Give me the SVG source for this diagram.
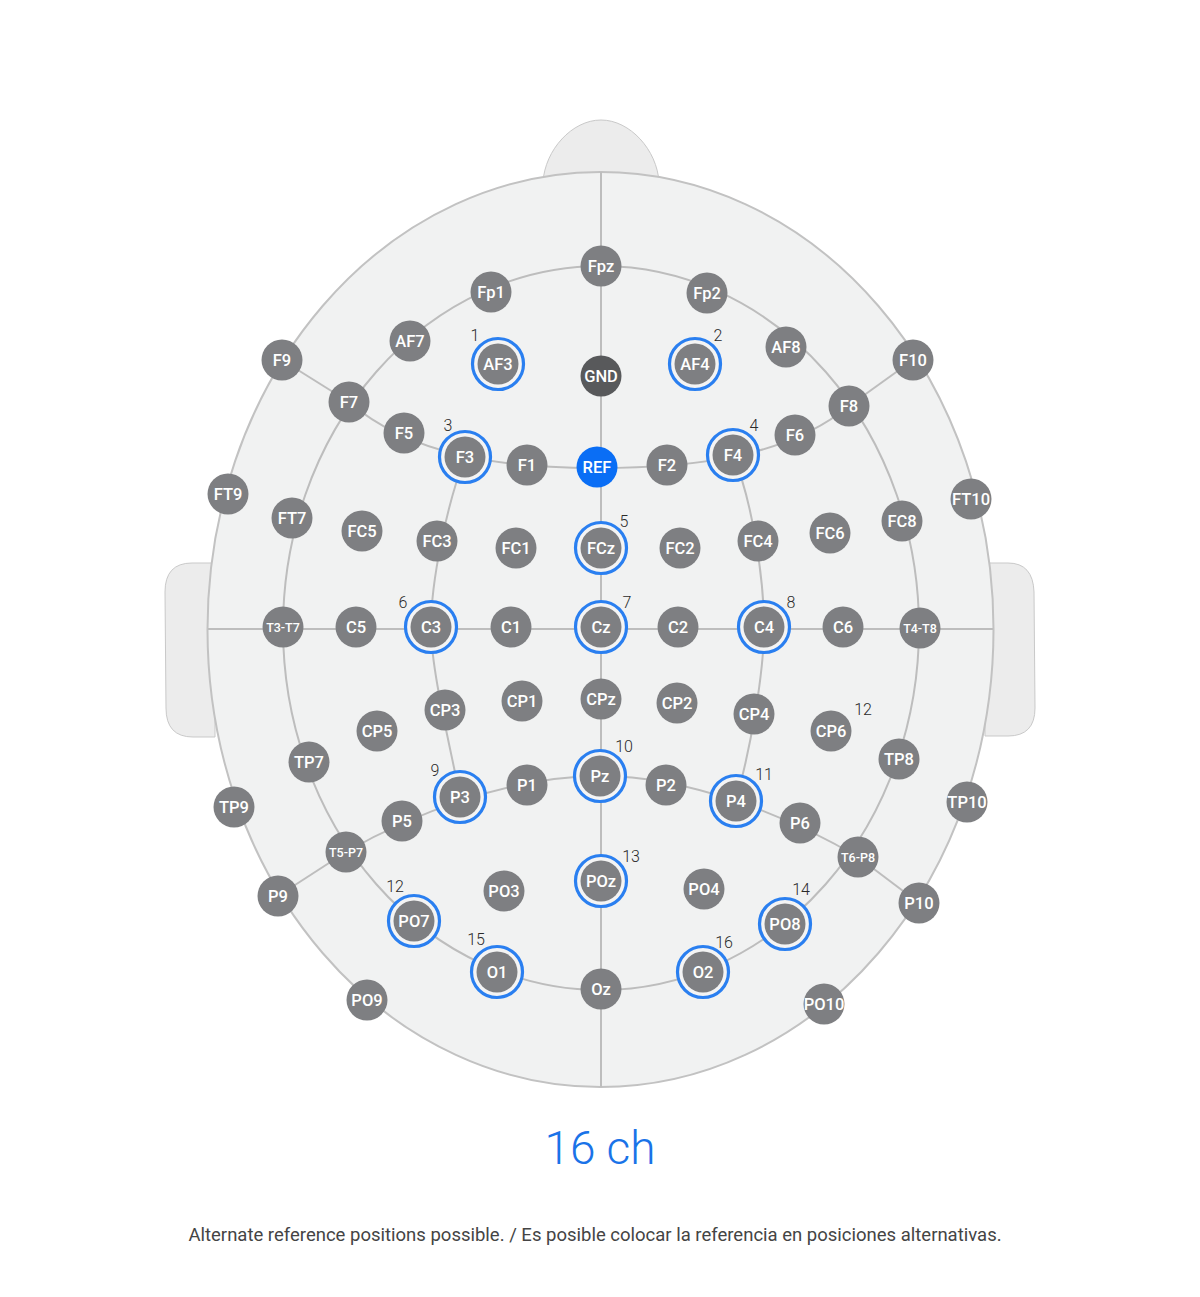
<svg xmlns="http://www.w3.org/2000/svg" width="1200" height="1297" viewBox="0 0 1200 1297">
<style>
.bg{fill:#ffffff}
.head{fill:#f1f2f2;stroke:#c2c2c2;stroke-width:2}
.part{fill:#ececec;stroke:#c9c9c9;stroke-width:1}
.ln{fill:none;stroke:#bdbdbd;stroke-width:2}
.nd{fill:#7e7f82}
.gnd{fill:#58595b}
.ref{fill:#0a6ef5}
.ring{fill:#f4f4f4;stroke:#2a7ff0;stroke-width:3.2}
.lb{fill:#ffffff;font-family:Roboto,"Liberation Sans",sans-serif;font-size:16.5px;font-weight:500;text-anchor:middle}
.sm{font-size:12.5px}
.num{fill:#2a2a2a;font-family:Roboto,"Liberation Sans",sans-serif;font-size:16px;font-weight:300;text-anchor:middle}
.title{fill:#1a73e8;font-family:Roboto,"Liberation Sans",sans-serif;font-size:46px;font-weight:300;text-anchor:middle}
.note{fill:#444444;font-family:Roboto,"Liberation Sans",sans-serif;font-size:18.5px;text-anchor:middle}
</style>
<rect class="bg" x="0" y="0" width="1200" height="1297"/>
<g id="head">
<path class="part" d="M543,182 C545,150 572,120 601,120 C630,120 657,150 659,182 Z"/>
<path class="part" d="M215,563 L192,563 Q165,563 165,592 L166,708 Q166,737 193,737 L215,737 Z"/>
<path class="part" d="M985,563 L1008,563 Q1033,563 1034,592 L1035,708 Q1035,736 1008,736 L985,736 Z"/>
<ellipse class="head" cx="600.5" cy="629.5" rx="393" ry="457.5"/>
</g>
<g id="connectors">
<line class="ln" x1="601" y1="172" x2="601" y2="1087"/>
<line class="ln" x1="208" y1="629" x2="993" y2="629"/>
<ellipse class="ln" cx="601" cy="628" rx="318" ry="362"/>
<path class="ln" d="M349,402 C410,455 500,468 597,468 C694,468 787,457 849,406"/>
<path class="ln" d="M346,852 C410,815 510,776 600,776 C690,776 790,817 858,857"/>
<path class="ln" d="M465,457 C447,505 431,580 431,627 C431,670 450,745 460,797"/>
<path class="ln" d="M733,455 C752,500 764,578 764,627 C764,675 750,750 736,801"/>
<line class="ln" x1="282" y1="360" x2="349" y2="402"/>
<line class="ln" x1="913" y1="360" x2="849" y2="406"/>
<line class="ln" x1="278" y1="896" x2="346" y2="852"/>
<line class="ln" x1="919" y1="903" x2="858" y2="857"/>
</g>
<g id="n-F9"><circle class="nd" cx="282" cy="360" r="20.5"/><text class="lb" x="282" y="366">F9</text></g>
<g id="n-FT9"><circle class="nd" cx="228" cy="494" r="20.5"/><text class="lb" x="228" y="500">FT9</text></g>
<g id="n-TP9"><circle class="nd" cx="234" cy="807" r="20.5"/><text class="lb" x="234" y="813">TP9</text></g>
<g id="n-P9"><circle class="nd" cx="278" cy="896" r="20.5"/><text class="lb" x="278" y="902">P9</text></g>
<g id="n-PO9"><circle class="nd" cx="367" cy="1000" r="20.5"/><text class="lb" x="367" y="1006">PO9</text></g>
<g id="n-PO10"><circle class="nd" cx="824" cy="1004" r="20.5"/><text class="lb" x="824" y="1010">PO10</text></g>
<g id="n-P10"><circle class="nd" cx="919" cy="903" r="20.5"/><text class="lb" x="919" y="909">P10</text></g>
<g id="n-TP10"><circle class="nd" cx="967" cy="802" r="20.5"/><text class="lb" x="967" y="808">TP10</text></g>
<g id="n-FT10"><circle class="nd" cx="971" cy="499" r="20.5"/><text class="lb" x="971" y="505">FT10</text></g>
<g id="n-F10"><circle class="nd" cx="913" cy="360" r="20.5"/><text class="lb" x="913" y="366">F10</text></g>
<g id="n-Fpz"><circle class="nd" cx="601" cy="266" r="20.5"/><text class="lb" x="601" y="272">Fpz</text></g>
<g id="n-Fp1"><circle class="nd" cx="491" cy="292" r="20.5"/><text class="lb" x="491" y="298">Fp1</text></g>
<g id="n-Fp2"><circle class="nd" cx="707" cy="293" r="20.5"/><text class="lb" x="707" y="299">Fp2</text></g>
<g id="n-AF7"><circle class="nd" cx="410" cy="341" r="20.5"/><text class="lb" x="410" y="347">AF7</text></g>
<g id="n-AF8"><circle class="nd" cx="786" cy="347" r="20.5"/><text class="lb" x="786" y="353">AF8</text></g>
<g id="n-F7"><circle class="nd" cx="349" cy="402" r="20.5"/><text class="lb" x="349" y="408">F7</text></g>
<g id="n-F8"><circle class="nd" cx="849" cy="406" r="20.5"/><text class="lb" x="849" y="412">F8</text></g>
<g id="n-FT7"><circle class="nd" cx="292" cy="518" r="20.5"/><text class="lb" x="292" y="524">FT7</text></g>
<g id="n-FC8"><circle class="nd" cx="902" cy="521" r="20.5"/><text class="lb" x="902" y="527">FC8</text></g>
<g id="n-T3-T7"><circle class="nd" cx="283" cy="627" r="20.5"/><text class="lb sm" x="283" y="631.5">T3-T7</text></g>
<g id="n-T4-T8"><circle class="nd" cx="920" cy="628" r="20.5"/><text class="lb sm" x="920" y="632.5">T4-T8</text></g>
<g id="n-TP7"><circle class="nd" cx="309" cy="762" r="20.5"/><text class="lb" x="309" y="768">TP7</text></g>
<g id="n-TP8"><circle class="nd" cx="899" cy="759" r="20.5"/><text class="lb" x="899" y="765">TP8</text></g>
<g id="n-T5-P7"><circle class="nd" cx="346" cy="852" r="20.5"/><text class="lb sm" x="346" y="856.5">T5-P7</text></g>
<g id="n-T6-P8"><circle class="nd" cx="858" cy="857" r="20.5"/><text class="lb sm" x="858" y="861.5">T6-P8</text></g>
<g id="n-PO7"><circle class="ring" cx="414" cy="921" r="25.5"/><circle class="nd" cx="414" cy="921" r="20.5"/><text class="lb" x="414" y="927">PO7</text><text class="num" x="395" y="892">12</text></g>
<g id="n-PO8"><circle class="ring" cx="785" cy="924" r="25.5"/><circle class="nd" cx="785" cy="924" r="20.5"/><text class="lb" x="785" y="930">PO8</text><text class="num" x="801" y="895">14</text></g>
<g id="n-O1"><circle class="ring" cx="497" cy="972" r="25.5"/><circle class="nd" cx="497" cy="972" r="20.5"/><text class="lb" x="497" y="978">O1</text><text class="num" x="476" y="945">15</text></g>
<g id="n-O2"><circle class="ring" cx="703" cy="972" r="25.5"/><circle class="nd" cx="703" cy="972" r="20.5"/><text class="lb" x="703" y="978">O2</text><text class="num" x="724" y="948">16</text></g>
<g id="n-Oz"><circle class="nd" cx="601" cy="989" r="20.5"/><text class="lb" x="601" y="995">Oz</text></g>
<g id="n-AF3"><circle class="ring" cx="498" cy="364" r="25.5"/><circle class="nd" cx="498" cy="364" r="20.5"/><text class="lb" x="498" y="370">AF3</text><text class="num" x="475" y="341">1</text></g>
<g id="n-AF4"><circle class="ring" cx="695" cy="364" r="25.5"/><circle class="nd" cx="695" cy="364" r="20.5"/><text class="lb" x="695" y="370">AF4</text><text class="num" x="718" y="341">2</text></g>
<g id="n-GND"><circle class="gnd" cx="601" cy="376" r="20.5"/><text class="lb" x="601" y="382">GND</text></g>
<g id="n-F5"><circle class="nd" cx="404" cy="433" r="20.5"/><text class="lb" x="404" y="439">F5</text></g>
<g id="n-F3"><circle class="ring" cx="465" cy="457" r="25.5"/><circle class="nd" cx="465" cy="457" r="20.5"/><text class="lb" x="465" y="463">F3</text><text class="num" x="448" y="431">3</text></g>
<g id="n-F1"><circle class="nd" cx="527" cy="465" r="20.5"/><text class="lb" x="527" y="471">F1</text></g>
<g id="n-REF"><circle class="ref" cx="597" cy="467" r="20.5"/><text class="lb" x="597" y="473">REF</text></g>
<g id="n-F2"><circle class="nd" cx="667" cy="465" r="20.5"/><text class="lb" x="667" y="471">F2</text></g>
<g id="n-F4"><circle class="ring" cx="733" cy="455" r="25.5"/><circle class="nd" cx="733" cy="455" r="20.5"/><text class="lb" x="733" y="461">F4</text><text class="num" x="754" y="431">4</text></g>
<g id="n-F6"><circle class="nd" cx="795" cy="435" r="20.5"/><text class="lb" x="795" y="441">F6</text></g>
<g id="n-FC5"><circle class="nd" cx="362" cy="531" r="20.5"/><text class="lb" x="362" y="537">FC5</text></g>
<g id="n-FC3"><circle class="nd" cx="437" cy="541" r="20.5"/><text class="lb" x="437" y="547">FC3</text></g>
<g id="n-FC1"><circle class="nd" cx="516" cy="548" r="20.5"/><text class="lb" x="516" y="554">FC1</text></g>
<g id="n-FCz"><circle class="ring" cx="601" cy="548" r="25.5"/><circle class="nd" cx="601" cy="548" r="20.5"/><text class="lb" x="601" y="554">FCz</text><text class="num" x="624" y="527">5</text></g>
<g id="n-FC2"><circle class="nd" cx="680" cy="548" r="20.5"/><text class="lb" x="680" y="554">FC2</text></g>
<g id="n-FC4"><circle class="nd" cx="758" cy="541" r="20.5"/><text class="lb" x="758" y="547">FC4</text></g>
<g id="n-FC6"><circle class="nd" cx="830" cy="533" r="20.5"/><text class="lb" x="830" y="539">FC6</text></g>
<g id="n-C5"><circle class="nd" cx="356" cy="627" r="20.5"/><text class="lb" x="356" y="633">C5</text></g>
<g id="n-C3"><circle class="ring" cx="431" cy="627" r="25.5"/><circle class="nd" cx="431" cy="627" r="20.5"/><text class="lb" x="431" y="633">C3</text><text class="num" x="403" y="608">6</text></g>
<g id="n-C1"><circle class="nd" cx="511" cy="627" r="20.5"/><text class="lb" x="511" y="633">C1</text></g>
<g id="n-Cz"><circle class="ring" cx="601" cy="627" r="25.5"/><circle class="nd" cx="601" cy="627" r="20.5"/><text class="lb" x="601" y="633">Cz</text><text class="num" x="627" y="608">7</text></g>
<g id="n-C2"><circle class="nd" cx="678" cy="627" r="20.5"/><text class="lb" x="678" y="633">C2</text></g>
<g id="n-C4"><circle class="ring" cx="764" cy="627" r="25.5"/><circle class="nd" cx="764" cy="627" r="20.5"/><text class="lb" x="764" y="633">C4</text><text class="num" x="791" y="608">8</text></g>
<g id="n-C6"><circle class="nd" cx="843" cy="627" r="20.5"/><text class="lb" x="843" y="633">C6</text></g>
<g id="n-CP5"><circle class="nd" cx="377" cy="731" r="20.5"/><text class="lb" x="377" y="737">CP5</text></g>
<g id="n-CP3"><circle class="nd" cx="445" cy="710" r="20.5"/><text class="lb" x="445" y="716">CP3</text></g>
<g id="n-CP1"><circle class="nd" cx="522" cy="701" r="20.5"/><text class="lb" x="522" y="707">CP1</text></g>
<g id="n-CPz"><circle class="nd" cx="601" cy="699" r="20.5"/><text class="lb" x="601" y="705">CPz</text></g>
<g id="n-CP2"><circle class="nd" cx="677" cy="703" r="20.5"/><text class="lb" x="677" y="709">CP2</text></g>
<g id="n-CP4"><circle class="nd" cx="754" cy="714" r="20.5"/><text class="lb" x="754" y="720">CP4</text></g>
<g id="n-CP6"><circle class="nd" cx="831" cy="731" r="20.5"/><text class="lb" x="831" y="737">CP6</text><text class="num" x="863" y="715">12</text></g>
<g id="n-P5"><circle class="nd" cx="402" cy="821" r="20.5"/><text class="lb" x="402" y="827">P5</text></g>
<g id="n-P3"><circle class="ring" cx="460" cy="797" r="25.5"/><circle class="nd" cx="460" cy="797" r="20.5"/><text class="lb" x="460" y="803">P3</text><text class="num" x="435" y="776">9</text></g>
<g id="n-P1"><circle class="nd" cx="527" cy="785" r="20.5"/><text class="lb" x="527" y="791">P1</text></g>
<g id="n-Pz"><circle class="ring" cx="600" cy="776" r="25.5"/><circle class="nd" cx="600" cy="776" r="20.5"/><text class="lb" x="600" y="782">Pz</text><text class="num" x="624" y="752">10</text></g>
<g id="n-P2"><circle class="nd" cx="666" cy="785" r="20.5"/><text class="lb" x="666" y="791">P2</text></g>
<g id="n-P4"><circle class="ring" cx="736" cy="801" r="25.5"/><circle class="nd" cx="736" cy="801" r="20.5"/><text class="lb" x="736" y="807">P4</text><text class="num" x="764" y="780">11</text></g>
<g id="n-P6"><circle class="nd" cx="800" cy="823" r="20.5"/><text class="lb" x="800" y="829">P6</text></g>
<g id="n-PO3"><circle class="nd" cx="504" cy="891" r="20.5"/><text class="lb" x="504" y="897">PO3</text></g>
<g id="n-POz"><circle class="ring" cx="601" cy="881" r="25.5"/><circle class="nd" cx="601" cy="881" r="20.5"/><text class="lb" x="601" y="887">POz</text><text class="num" x="631" y="862">13</text></g>
<g id="n-PO4"><circle class="nd" cx="704" cy="889" r="20.5"/><text class="lb" x="704" y="895">PO4</text></g>
<text class="title" x="600" y="1164">16 ch</text>
<text class="note" x="595" y="1241">Alternate reference positions possible. / Es posible colocar la referencia en posiciones alternativas.</text>
</svg>
